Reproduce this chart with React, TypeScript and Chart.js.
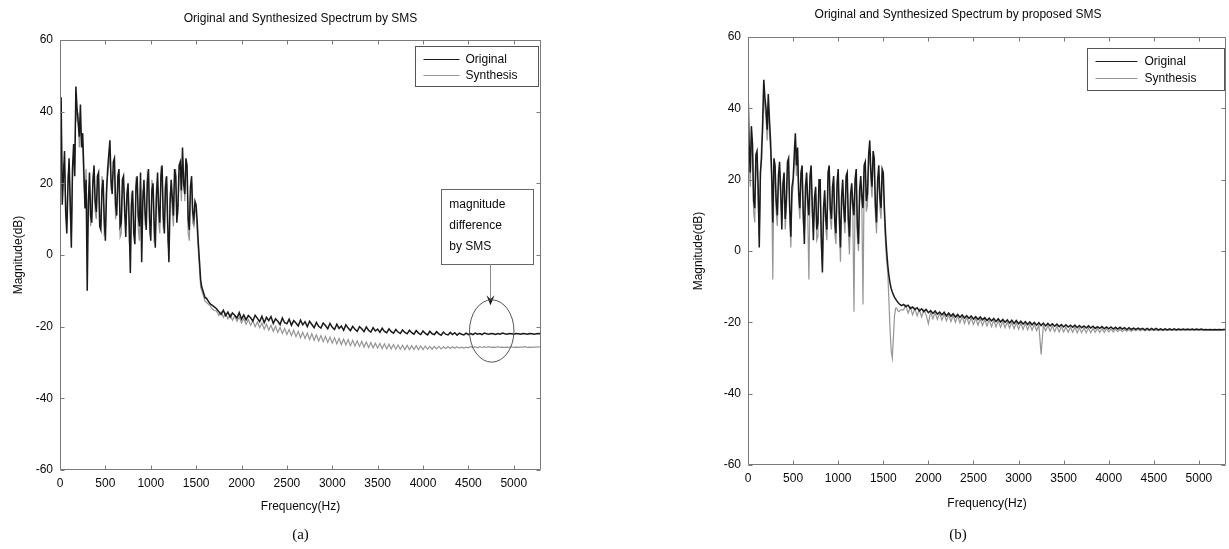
import React, { useEffect, useRef } from "react";
import { Chart, registerables } from "chart.js";

Chart.register(...registerables);

// ---------- data ----------
// analysis bins: 12.5 Hz below 1700 Hz, 25 Hz above
const FREQ_LOW = [
  0, 12.5, 25, 37.5, 50, 62.5, 75, 87.5,
  100, 112.5, 125, 137.5, 150, 162.5, 175, 187.5,
  200, 212.5, 225, 237.5, 250, 262.5, 275, 287.5,
  300, 312.5, 325, 337.5, 350, 362.5, 375, 387.5,
  400, 412.5, 425, 437.5, 450, 462.5, 475, 487.5,
  500, 512.5, 525, 537.5, 550, 562.5, 575, 587.5,
  600, 612.5, 625, 637.5, 650, 662.5, 675, 687.5,
  700, 712.5, 725, 737.5, 750, 762.5, 775, 787.5,
  800, 812.5, 825, 837.5, 850, 862.5, 875, 887.5,
  900, 912.5, 925, 937.5, 950, 962.5, 975, 987.5,
  1000, 1012.5, 1025, 1037.5, 1050, 1062.5, 1075, 1087.5,
  1100, 1112.5, 1125, 1137.5, 1150, 1162.5, 1175, 1187.5,
  1200, 1212.5, 1225, 1237.5, 1250, 1262.5, 1275, 1287.5,
  1300, 1312.5, 1325, 1337.5, 1350, 1362.5, 1375, 1387.5,
  1400, 1412.5, 1425, 1437.5, 1450, 1462.5, 1475, 1487.5,
  1500, 1512.5, 1525, 1537.5, 1550, 1562.5, 1575, 1587.5,
  1600, 1612.5, 1625, 1637.5, 1650, 1662.5, 1675, 1687.5,
  1700,
];
const FREQ_TAIL = [
  1725, 1750, 1775, 1800, 1825, 1850, 1875, 1900,
  1925, 1950, 1975, 2000, 2025, 2050, 2075, 2100,
  2125, 2150, 2175, 2200, 2225, 2250, 2275, 2300,
  2325, 2350, 2375, 2400, 2425, 2450, 2475, 2500,
  2525, 2550, 2575, 2600, 2625, 2650, 2675, 2700,
  2725, 2750, 2775, 2800, 2825, 2850, 2875, 2900,
  2925, 2950, 2975, 3000, 3025, 3050, 3075, 3100,
  3125, 3150, 3175, 3200, 3225, 3250, 3275, 3300,
  3325, 3350, 3375, 3400, 3425, 3450, 3475, 3500,
  3525, 3550, 3575, 3600, 3625, 3650, 3675, 3700,
  3725, 3750, 3775, 3800, 3825, 3850, 3875, 3900,
  3925, 3950, 3975, 4000, 4025, 4050, 4075, 4100,
  4125, 4150, 4175, 4200, 4225, 4250, 4275, 4300,
  4325, 4350, 4375, 4400, 4425, 4450, 4475, 4500,
  4525, 4550, 4575, 4600, 4625, 4650, 4675, 4700,
  4725, 4750, 4775, 4800, 4825, 4850, 4875, 4900,
  4925, 4950, 4975, 5000, 5025, 5050, 5075, 5100,
  5125, 5150, 5175, 5200, 5225, 5250, 5275, 5300,
];
const FREQS = [...FREQ_LOW, ...FREQ_TAIL];

const X_TICKS = [0, 500, 1000, 1500, 2000, 2500, 3000, 3500, 4000, 4500, 5000];
const Y_TICKS = [-60, -40, -20, 0, 20, 40, 60];
const SERIES_NAMES = ["Original", "Synthesis"];

const TITLE_A = "Original and Synthesized Spectrum by SMS";
const TITLE_B = "Original and Synthesized Spectrum by proposed SMS";
const CAPTION_A = "(a)";
const CAPTION_B = "(b)";
const X_LABEL = "Frequency(Hz)";
const Y_LABEL = "Magnitude(dB)";
const NOTE_LINES = ["magnitude", "difference", "by SMS"];

// (a) SMS — low band (dB)
const SMS_ORIGINAL_LOW = [
  38, 44, 14, 22, 29, 12, 6, 19,
  27, 15, 2, 24, 31, 22, 47, 41,
  37, 33, 42, 30, 34, 24, 13, 21,
  -10, 14, 23, 11, 9, 20, 25, 15,
  12, 22, 23, 8, 7, 18, 21, 10,
  4, 17, 24, 28, 32, 21, 17, 26,
  27, 14, 11, 22, 24, 8, 9, 21,
  22, 12, 5, 17, 20, 9, -5, 14,
  18, 6, 3, 19, 22, 11, 8, 23,
  -2, 15, 21, 12, 7, 20, 24, 10,
  4, 18, 20, 9, 2, 16, 23, 13,
  9, 22, 25, 11, 6, 19, 22, 8,
  -2, 14, 21, 16, 11, 24, 22, 9,
  14, 25, 26, 18, 30, 20, 17, 27,
  25, 10, 7, 19, 22, 12, 10, 15,
  14, 9, 3, -2, -7, -9, -10, -11,
  -12, -12, -12.5, -13, -13.5, -13.8, -14, -14.2,
  -14.5,
];
const SMS_SYNTH_LOW = [
  34, 40, 18, 25, 24, 15, 9, 22,
  25, 12, 5, 21, 28, 25, 44, 38,
  39, 30, 36, 33, 30, 20, 16, 24,
  2, 17, 20, 8, 12, 22, 24, 12,
  10, 19, 21, 11, 9, 22, 19, 6,
  7, 20, 22, 25, 29, 18, 20, 23,
  24, 10, 14, 19, 21, 5, 6, 18,
  20, 15, 8, 14, 18, 4, 0, 17,
  16, 9, 6, 21, 20, 7, 4, 19,
  2, 18, 18, 9, 10, 23, 22, 6,
  7, 21, 18, 4, 5, 19, 21, 9,
  6, 24, 23, 8, 9, 21, 20, 4,
  1, 17, 19, 12, 8, 21, 24, 13,
  12, 22, 23, 15, 27, 23, 15, 24,
  22, 6, 4, 17, 20, 9, 8, 13,
  12, 6, 1, -4, -9, -10, -11, -12,
  -13, -13.2, -13.5, -13.8, -14, -14.5, -15, -15.2,
  -15.5,
];
// (a) SMS — high band (dB)
const SMS_ORIGINAL_TAIL = [
  -15.0, -15.8, -16.6, -15.4, -16.9, -15.9, -17.3, -16.2,
  -16.8, -17.6, -16.1, -17.9, -16.7, -18.1, -16.9, -17.5,
  -18.4, -16.8, -17.7, -18.6, -17.1, -18.9, -17.4, -18.3,
  -17.2, -19.1, -17.8, -18.5, -19.4, -17.6, -18.9, -19.2,
  -17.9, -19.6, -18.3, -19.0, -19.8, -18.2, -19.5, -18.6,
  -20.0, -18.5, -19.4, -20.3, -18.8, -19.9, -20.4, -19.0,
  -19.7, -20.6, -19.1, -20.2, -20.8, -19.3, -20.5, -19.8,
  -21.0, -19.5, -20.4, -21.1, -19.9, -20.7, -21.3, -20.0,
  -20.6, -21.4, -20.1, -21.0, -21.5, -20.3, -21.2, -20.7,
  -21.6, -20.4, -21.3, -21.7, -20.6, -21.4, -21.8, -20.8,
  -21.5, -21.9, -20.9, -21.6, -22.0, -21.0, -21.7, -22.1,
  -21.1, -21.8, -22.2, -21.2, -21.9, -22.3, -21.3, -22.0,
  -22.2, -21.4, -22.0, -22.4, -21.5, -22.1, -22.3, -21.6,
  -22.2, -21.7, -22.4, -21.8, -22.1, -22.3, -21.8, -22.2,
  -21.9, -22.2, -21.8, -22.1, -21.9, -22.2, -21.8, -22.0,
  -22.1, -21.9, -22.0, -22.2, -21.9, -22.1, -21.8, -22.0,
  -22.1, -21.9, -22.0, -22.1, -21.9, -22.0, -22.1, -21.9,
  -22.0, -22.1, -21.9, -22.0, -22.1, -22.0, -21.9, -22.0,
];
const SMS_SYNTH_TAIL = [
  -15.6, -16.9, -15.9, -17.4, -16.3, -17.8, -16.6, -18.2,
  -17.0, -18.5, -17.3, -19.0, -17.7, -19.3, -18.0, -19.6,
  -18.3, -20.0, -18.7, -20.3, -19.0, -20.7, -19.3, -21.0,
  -19.6, -21.3, -19.9, -21.6, -20.2, -21.9, -20.5, -22.2,
  -20.8, -22.5, -21.0, -22.8, -21.3, -23.1, -21.6, -23.3,
  -21.8, -23.6, -22.0, -23.8, -22.3, -24.0, -22.5, -24.2,
  -22.7, -24.4, -22.9, -24.6, -23.1, -24.8, -23.3, -25.0,
  -23.5, -25.1, -23.6, -25.3, -23.8, -25.4, -24.0, -25.5,
  -24.1, -25.7, -24.3, -25.8, -24.4, -25.9, -24.6, -26.0,
  -24.7, -26.1, -24.8, -26.2, -24.9, -26.2, -25.0, -26.3,
  -25.1, -26.3, -25.2, -26.4, -25.2, -26.4, -25.3, -26.4,
  -25.3, -26.4, -25.4, -26.4, -25.4, -26.3, -25.5, -26.3,
  -25.5, -26.2, -25.5, -26.2, -25.6, -26.1, -25.6, -26.1,
  -25.6, -26.0, -25.6, -26.0, -25.7, -26.0, -25.7, -25.9,
  -25.5, -25.9, -25.6, -25.9, -25.6, -25.8, -25.6, -25.8,
  -25.6, -25.8, -25.7, -25.8, -25.6, -25.8, -25.7, -25.8,
  -25.7, -25.8, -25.6, -25.8, -25.7, -25.8, -25.7, -25.7,
  -25.6, -25.8, -25.7, -25.8, -25.7, -25.7, -25.6, -25.7,
];

// (b) proposed SMS — low band (dB)
const PROP_ORIGINAL_LOW = [
  46, 30, 22, 35, 30, 14, 12, 27,
  28, 18, 1, 22, 26, 36, 48, 43,
  40, 34, 44, 37, 31, 22, 8, 26,
  24, 14, 10, 21, 25, 17, 6, 19,
  22, 9, 14, 25, 26, 12, 4, 18,
  20, 27, 33, 24, 29, 16, 12, 22,
  24, 11, 2, 18, 22, 14, 10, 21,
  24, 13, 3, 15, 18, 6, 8, 20,
  20, 4, -6, 12, 17, 9, 6, 22,
  24, 12, 9, 18, 21, 8, 5, 19,
  23, 10, 1, 15, 20, 12, 8, 21,
  22, 9, 4, 16, 19, 13, 10, 20,
  23, 7, 2, 17, 21, 15, 12, 24,
  25, 14, 16, 27, 31, 22, 18, 28,
  26, 13, 8, 20, 24, 15, 12, 23,
  22, 12, 5, 0, -4, -7, -9, -10.5,
  -11.5, -12.3, -13, -13.5, -14, -14.4, -14.8, -15,
  -15.3,
];
const PROP_SYNTH_LOW = [
  40, 26, 18, 31, 27, 11, 8, 23,
  24, 14, 4, 19, 30, 33, 45, 40,
  37, 31, 41, 33, 28, 18, -8, 22,
  20, 11, 7, 18, 22, 14, 9, 16,
  19, 6, 11, 22, 23, 9, 1, 15,
  18, 24, 30, 21, 26, 13, 9, 19,
  21, 8, 5, 15, 19, 10, -8, 17,
  21, 10, 6, 12, 16, 3, 4, 17,
  17, 1, -4, 9, 15, 6, 3, 19,
  21, 9, 6, 15, 18, 5, 2, 16,
  20, 7, -3, 12, 17, 9, 5, 18,
  19, 6, -1, 13, 16, 10, -17, 17,
  20, 4, 0, 14, 18, 12, -15, 20,
  22, 11, 13, 24, 28, 19, 15, 25,
  23, 10, 5, 17, 21, 12, 9, 20,
  19, 9, 2, -3, -6, -14, -22, -28,
  -30, -24, -18, -16, -16, -16.8, -17, -16.6,
  -16.5,
];
// (b) proposed SMS — high band (dB)
const PROP_ORIGINAL_TAIL = [
  -15.0, -15.6, -15.2, -16.1, -15.7, -16.4, -15.9, -16.8,
  -16.2, -17.0, -16.4, -17.3, -16.7, -17.5, -16.8, -17.7,
  -17.1, -17.9, -17.2, -18.2, -17.4, -18.3, -17.6, -18.5,
  -17.8, -18.6, -17.9, -18.8, -18.1, -18.9, -18.2, -19.1,
  -18.4, -19.2, -18.5, -19.3, -18.7, -19.5, -18.8, -19.6,
  -18.9, -19.8, -19.0, -19.9, -19.2, -20.0, -19.3, -20.2,
  -19.4, -20.3, -19.5, -20.4, -19.7, -20.5, -19.8, -20.6,
  -19.9, -20.7, -20.0, -20.8, -20.1, -20.9, -20.2, -21.0,
  -20.3, -21.0, -20.4, -21.1, -20.5, -21.2, -20.6, -21.3,
  -20.7, -21.3, -20.8, -21.4, -20.8, -21.5, -20.9, -21.5,
  -21.0, -21.6, -21.0, -21.6, -21.1, -21.7, -21.2, -21.7,
  -21.2, -21.8, -21.3, -21.8, -21.3, -21.9, -21.4, -21.9,
  -21.4, -21.9, -21.5, -22.0, -21.5, -22.0, -21.6, -22.0,
  -21.6, -22.0, -21.7, -22.1, -21.7, -22.1, -21.7, -22.1,
  -21.7, -22.1, -21.8, -22.1, -21.8, -22.1, -21.8, -22.1,
  -21.8, -22.1, -21.9, -22.1, -21.9, -22.1, -21.9, -22.1,
  -21.9, -22.1, -21.9, -22.1, -21.9, -22.1, -22.0, -22.1,
  -22.0, -22.1, -22.0, -22.1, -22.0, -22.1, -22.0, -22.0,
];
const PROP_SYNTH_TAIL = [
  -16.5, -15.2, -17.4, -15.8, -17.9, -16.1, -18.2, -16.4,
  -18.5, -16.6, -17.9, -20.4, -17.0, -19.0, -17.3, -19.2,
  -17.4, -19.4, -17.6, -19.6, -17.9, -19.8, -18.0, -20.0,
  -18.2, -20.1, -18.4, -20.3, -18.5, -20.5, -18.7, -20.6,
  -18.9, -20.8, -19.0, -20.9, -19.2, -21.0, -19.3, -21.2,
  -19.4, -21.3, -19.6, -21.4, -19.7, -21.5, -19.9, -21.6,
  -20.0, -21.8, -20.1, -21.9, -20.2, -22.0, -20.3, -22.1,
  -20.5, -22.2, -20.6, -22.3, -20.7, -29.0, -20.8, -22.4,
  -20.9, -22.5, -21.0, -22.6, -21.1, -22.7, -21.2, -22.7,
  -21.3, -22.8, -21.4, -22.8, -21.4, -22.9, -21.5, -22.9,
  -21.6, -22.9, -21.6, -22.9, -21.7, -22.8, -21.7, -22.8,
  -21.8, -22.8, -21.8, -22.7, -21.9, -22.7, -21.9, -22.6,
  -21.9, -22.6, -22.0, -22.5, -22.0, -22.5, -22.0, -22.4,
  -22.0, -22.4, -22.0, -22.4, -22.1, -22.3, -22.1, -22.3,
  -22.1, -22.3, -22.1, -22.3, -22.1, -22.2, -22.1, -22.2,
  -22.1, -22.2, -22.1, -22.2, -22.1, -22.2, -22.1, -22.2,
  -22.1, -22.2, -22.1, -22.2, -22.1, -22.2, -22.1, -22.2,
  -22.1, -22.2, -22.1, -22.2, -22.1, -22.2, -22.1, -22.1,
];

// annotation anchors (data units) for panel (a)
const NOTE_BOX = { hz0: 4200, hz1: 5210, db0: 18.5, db1: -2.6 };
const NOTE_TEXT = { hz: 4290, db: [14.0, 8.2, 2.4] };
const NOTE_ARROW = { hz: 4740, dbFrom: -2.6, dbTo: -14 };
const NOTE_ELLIPSE = { hz: 4757, db: -21.2, rHz: 245, rDb: 8.7 };

// ---------- styling ----------
const FONT = "'Liberation Sans', Arial, Helvetica, sans-serif";
const TEXT_COLOR = "#0a0a0a";
const ORIGINAL_COLOR = "#1a1a1a";
const SYNTH_COLOR = "#959595";
const FRAME_COLOR = "#7a7a7a";

const framePlugin = {
  id: "frame",
  afterDraw(chart: any) {
    const { ctx, chartArea } = chart;
    const { left, right, top, bottom } = chartArea;
    const xs = chart.scales.x;
    const ys = chart.scales.y;
    ctx.save();
    ctx.strokeStyle = FRAME_COLOR;
    ctx.lineWidth = 1;
    const L = Math.round(left) + 0.5;
    const R = Math.round(right) - 0.5;
    const T = Math.round(top) + 0.5;
    const B = Math.round(bottom) - 0.5;
    ctx.beginPath();
    ctx.rect(L, T, R - L, B - T);
    const tl = 4;
    xs.ticks.forEach((t: any) => {
      const px = Math.round(xs.getPixelForValue(t.value)) + 0.5;
      ctx.moveTo(px, B);
      ctx.lineTo(px, B - tl);
      ctx.moveTo(px, T);
      ctx.lineTo(px, T + tl);
    });
    ys.ticks.forEach((t: any) => {
      const py = Math.round(ys.getPixelForValue(t.value)) + 0.5;
      ctx.moveTo(L, py);
      ctx.lineTo(L + tl, py);
      ctx.moveTo(R, py);
      ctx.lineTo(R - tl, py);
    });
    ctx.stroke();
    ctx.restore();
  },
};

const boxLegendPlugin = {
  id: "boxLegend",
  afterDraw(chart: any, _args: any, opts: any) {
    if (!opts || !opts.show) return;
    const { ctx, chartArea } = chart;
    const x0 = Math.round(chartArea.right - opts.right - opts.width) + 0.5;
    const y0 = Math.round(chartArea.top + opts.top) + 0.5;
    ctx.save();
    ctx.fillStyle = "#ffffff";
    ctx.fillRect(x0, y0, opts.width, opts.height);
    ctx.strokeStyle = "#555555";
    ctx.lineWidth = 1;
    ctx.strokeRect(x0, y0, opts.width, opts.height);
    ctx.font = `12px ${FONT}`;
    ctx.textBaseline = "middle";
    ctx.textAlign = "left";
    chart.data.datasets.forEach((ds: any, i: number) => {
      const cy = Math.round(y0 + opts.rows[i]) + 0.5;
      ctx.strokeStyle = ds.borderColor;
      ctx.lineWidth = 1;
      ctx.beginPath();
      ctx.moveTo(x0 + opts.lineFrom, cy);
      ctx.lineTo(x0 + opts.lineTo, cy);
      ctx.stroke();
      ctx.fillStyle = TEXT_COLOR;
      ctx.fillText(ds.label, x0 + opts.textAt, cy);
    });
    ctx.restore();
  },
};

const notePlugin = {
  id: "note",
  afterDraw(chart: any, _args: any, opts: any) {
    if (!opts || !opts.show) return;
    const { ctx } = chart;
    const xs = chart.scales.x;
    const ys = chart.scales.y;
    ctx.save();
    const bx0 = Math.round(xs.getPixelForValue(NOTE_BOX.hz0)) + 0.5;
    const bx1 = Math.round(xs.getPixelForValue(NOTE_BOX.hz1)) + 0.5;
    const by0 = Math.round(ys.getPixelForValue(NOTE_BOX.db0)) + 0.5;
    const by1 = Math.round(ys.getPixelForValue(NOTE_BOX.db1)) + 0.5;
    ctx.fillStyle = "#ffffff";
    ctx.fillRect(bx0, by0, bx1 - bx0, by1 - by0);
    ctx.strokeStyle = "#666666";
    ctx.lineWidth = 1;
    ctx.strokeRect(bx0, by0, bx1 - bx0, by1 - by0);
    ctx.fillStyle = TEXT_COLOR;
    ctx.font = `12px ${FONT}`;
    ctx.textAlign = "left";
    ctx.textBaseline = "middle";
    NOTE_LINES.forEach((line, i) => {
      ctx.fillText(line, xs.getPixelForValue(NOTE_TEXT.hz), ys.getPixelForValue(NOTE_TEXT.db[i]));
    });
    const ax = Math.round(xs.getPixelForValue(NOTE_ARROW.hz)) + 0.5;
    const ay0 = ys.getPixelForValue(NOTE_ARROW.dbFrom);
    const ay1 = ys.getPixelForValue(NOTE_ARROW.dbTo);
    ctx.strokeStyle = "#8a8a8a";
    ctx.beginPath();
    ctx.moveTo(ax, ay0);
    ctx.lineTo(ax, ay1 - 6);
    ctx.stroke();
    ctx.fillStyle = "#111111";
    ctx.beginPath();
    ctx.moveTo(ax, ay1);
    ctx.lineTo(ax - 4, ay1 - 10);
    ctx.lineTo(ax, ay1 - 6);
    ctx.lineTo(ax + 4, ay1 - 10);
    ctx.closePath();
    ctx.fill();
    const cx = xs.getPixelForValue(NOTE_ELLIPSE.hz);
    const cy = ys.getPixelForValue(NOTE_ELLIPSE.db);
    const rx = Math.abs(xs.getPixelForValue(NOTE_ELLIPSE.hz + NOTE_ELLIPSE.rHz) - cx);
    const ry = Math.abs(ys.getPixelForValue(NOTE_ELLIPSE.db + NOTE_ELLIPSE.rDb) - cy);
    ctx.strokeStyle = "#555555";
    ctx.beginPath();
    ctx.ellipse(cx, cy, rx, ry, 0, 0, Math.PI * 2);
    ctx.stroke();
    ctx.restore();
  },
};

type PanelProps = {
  left: number;
  width: number;
  height: number;
  title: string;
  caption: string;
  original: number[];
  synthesis: number[];
  padLeft: number;
  padRight: number;
  yWidth: number;
  centerOnAxes: boolean;
  titlePad: { top: number; bottom: number };
  captionPad: { top: number; bottom: number };
  xTitleBottom: number;
  yTitleTop: number;
  legend: any;
  note: boolean;
};

function Panel(p: PanelProps) {
  const ref = useRef<HTMLCanvasElement>(null);
  useEffect(() => {
    if (!ref.current) return;
    const toPoints = (vals: number[]) => FREQS.map((f, i) => ({ x: f, y: vals[i] }));
    const chart = new Chart(ref.current, {
      type: "line",
      data: {
        datasets: [
          {
            label: SERIES_NAMES[0],
            data: toPoints(p.original),
            borderColor: ORIGINAL_COLOR,
            borderWidth: 1.5,
            pointRadius: 0,
            tension: 0,
          },
          {
            label: SERIES_NAMES[1],
            data: toPoints(p.synthesis),
            borderColor: SYNTH_COLOR,
            borderWidth: 1.2,
            pointRadius: 0,
            tension: 0,
          },
        ],
      },
      options: {
        responsive: false,
        animation: false,
        devicePixelRatio: 1,
        events: [],
        layout: { padding: { left: p.padLeft, right: p.padRight, top: 0, bottom: 0 } },
        scales: {
          x: {
            type: "linear",
            min: 0,
            max: 5300,
            afterBuildTicks: (s: any) => {
              s.ticks = X_TICKS.map((v) => ({ value: v }));
            },
            afterFit: (s: any) => {
              s.height = 46;
            },
            grid: { display: false, drawTicks: false, tickLength: 0 },
            border: { display: false },
            ticks: {
              autoSkip: false,
              maxRotation: 0,
              padding: 6,
              color: TEXT_COLOR,
              font: { family: FONT, size: 12 },
              callback: (v: any) => String(v),
            },
            title: {
              display: true,
              text: X_LABEL,
              color: TEXT_COLOR,
              font: { family: FONT, size: 12 },
              padding: { top: 0, bottom: p.xTitleBottom },
            },
          },
          y: {
            type: "linear",
            min: -60,
            max: 60,
            afterBuildTicks: (s: any) => {
              s.ticks = Y_TICKS.map((v) => ({ value: v }));
            },
            afterFit: (s: any) => {
              s.width = p.yWidth;
            },
            grid: { display: false, drawTicks: false, tickLength: 0 },
            border: { display: false },
            ticks: {
              padding: 7,
              color: TEXT_COLOR,
              font: { family: FONT, size: 12 },
              callback: (v: any) => String(v),
            },
            title: {
              display: true,
              text: Y_LABEL,
              color: TEXT_COLOR,
              font: { family: FONT, size: 12 },
              padding: { top: p.yTitleTop, bottom: 0 },
            },
          },
        },
        plugins: {
          legend: { display: false },
          tooltip: { enabled: false },
          title: {
            display: true,
            text: p.title,
            fullSize: !p.centerOnAxes,
            color: TEXT_COLOR,
            font: { family: FONT, size: 12, weight: "normal" },
            padding: p.titlePad,
          },
          subtitle: {
            display: true,
            position: "bottom",
            text: p.caption,
            fullSize: !p.centerOnAxes,
            color: TEXT_COLOR,
            font: { family: "'Liberation Serif', 'DejaVu Serif', serif", size: 15 },
            padding: p.captionPad,
          },
          boxLegend: p.legend,
          note: { show: p.note },
        } as any,
      },
      plugins: [framePlugin, boxLegendPlugin, notePlugin],
    } as any);
    return () => chart.destroy();
  }, []);
  return (
    <canvas
      ref={ref}
      width={p.width}
      height={p.height}
      style={{ position: "absolute", left: p.left, top: 0, width: p.width, height: p.height }}
    />
  );
}

export default function App() {
  return (
    <div
      style={{
        position: "fixed",
        left: 0,
        top: 0,
        width: 1229,
        height: 549,
        background: "#ffffff",
        overflow: "hidden",
      }}
    >
      <Panel
        left={0}
        width={600}
        height={549}
        title={TITLE_A}
        caption={CAPTION_A}
        original={[...SMS_ORIGINAL_LOW, ...SMS_ORIGINAL_TAIL]}
        synthesis={[...SMS_SYNTH_LOW, ...SMS_SYNTH_TAIL]}
        padLeft={0}
        padRight={59}
        yWidth={60}
        centerOnAxes={true}
        titlePad={{ top: 11, bottom: 14.6 }}
        captionPad={{ top: 10, bottom: 5 }}
        xTitleBottom={2}
        yTitleTop={11}
        legend={{ show: true, right: 3, top: 6, width: 123, height: 40, rows: [12, 28], lineFrom: 8, lineTo: 44, textAt: 50 }}
        note={true}
      />
      <Panel
        left={600}
        width={629}
        height={549}
        title={TITLE_B}
        caption={CAPTION_B}
        original={[...PROP_ORIGINAL_LOW, ...PROP_ORIGINAL_TAIL]}
        synthesis={[...PROP_SYNTH_LOW, ...PROP_SYNTH_TAIL]}
        padLeft={90}
        padRight={3}
        yWidth={58}
        centerOnAxes={false}
        titlePad={{ top: 7, bottom: 15.6 }}
        captionPad={{ top: 15, bottom: 5 }}
        xTitleBottom={0}
        yTitleTop={1}
        legend={{ show: true, right: 2, top: 11, width: 137, height: 42, rows: [12, 29], lineFrom: 8, lineTo: 50, textAt: 57 }}
        note={false}
      />
    </div>
  );
}
